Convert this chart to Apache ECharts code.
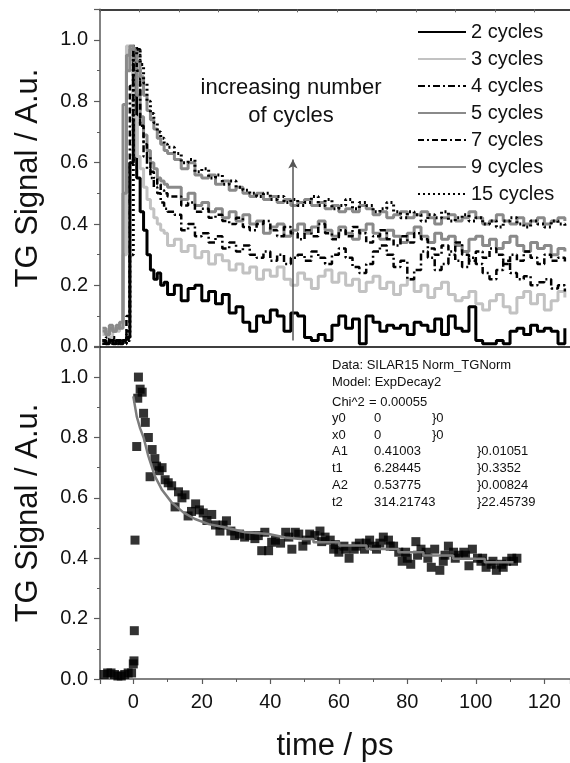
<!DOCTYPE html>
<html>
<head>
<meta charset="utf-8">
<title>TG signal</title>
<script src="https://cdn.jsdelivr.net/npm/echarts@6/dist/echarts.min.js"></script>
<style>
  html, body { margin: 0; padding: 0; background: #fff; }
  #main { width: 570px; height: 763px; }
</style>
</head>
<body>
<div id="main"></div>
<script>
// upper panel: normalised TG traces, time in ps
var timeTop = [-9,-8,-7,-6,-5,-4,-3,-2,-1,0,1,2,3,4,5,6,7,8,9,10,
  12,14,16,18,20,22,24,26,28,30,
  32,34,36,38,40,42,44,46,48,50,
  52,54,56,58,60,62,64,66,68,70,
  72,74,76,78,80,82,84,86,88,90,
  92,94,96,98,100,102,104,106,108,110,
  112,114,116,118,120,122,124,126]

var cycleNames = ['2 cycles','3 cycles','4 cycles','5 cycles','7 cycles','9 cycles','15 cycles']

var cycles2 = [0.02,0.01,0.03,0.01,0.02,0.01,
  0.02,0.03,0.60,0.97,0.55,0.44,0.38,0.30,0.25,0.22,0.24,0.20,0.21,0.17,
  0.20,0.15,0.19,0.20,0.15,0.18,0.14,0.17,0.11,0.13,
  0.08,0.05,0.10,0.08,0.12,0.10,0.05,0.11,0.10,0.03,
  0.02,0.04,0.02,0.07,0.10,0.06,0.09,0.01,0.10,0.08,
  0.05,0.07,0.06,0.07,0.04,0.08,0.07,0.05,0.09,0.04,
  0.10,0.06,0.05,0.13,0.02,0.01,0.01,0.02,0.01,0.05,
  0.06,0.04,0.07,0.05,0.06,0.05,0.01,0.06]
var cycles3 = [0.04,0.05,0.03,0.06,0.05,0.07,
  0.30,0.98,0.90,0.75,0.62,0.58,0.52,0.48,0.45,0.42,0.40,0.38,0.37,0.33,
  0.35,0.31,0.33,0.29,0.31,0.27,0.30,0.28,0.25,0.27,
  0.24,0.26,0.22,0.25,0.23,0.26,0.22,0.20,0.24,0.22,
  0.19,0.23,0.25,0.21,0.24,0.20,0.22,0.18,0.21,0.23,
  0.19,0.21,0.17,0.20,0.22,0.18,0.20,0.16,0.19,0.21,
  0.17,0.15,0.16,0.18,0.14,0.12,0.15,0.17,0.13,0.11,
  0.16,0.18,0.14,0.17,0.12,0.15,0.18,0.16]
var cycles4 = [0.01,0.02,0.01,0.02,0.01,0.02,
  0.02,0.05,0.60,0.98,0.97,0.72,0.62,0.58,0.55,0.52,0.50,0.47,0.45,0.44,
  0.43,0.38,0.40,0.36,0.37,0.34,0.36,0.32,0.34,0.31,
  0.33,0.30,0.29,0.31,0.28,0.30,0.27,0.29,0.30,0.28,
  0.31,0.29,0.27,0.30,0.32,0.29,0.26,0.24,0.27,0.31,
  0.33,0.30,0.26,0.28,0.22,0.25,0.31,0.29,0.25,0.27,
  0.30,0.28,0.26,0.29,0.27,0.24,0.22,0.25,0.28,0.24,
  0.22,0.23,0.20,0.21,0.22,0.19,0.20,0.18]
var cycles5 = [0.05,0.04,0.06,0.05,0.07,0.06,
  0.79,0.95,0.97,0.93,0.82,0.75,0.69,0.64,0.60,0.58,0.55,0.54,0.53,0.52,
  0.52,0.48,0.50,0.46,0.47,0.44,0.45,0.42,0.44,0.41,
  0.43,0.40,0.41,0.37,0.39,0.40,0.36,0.38,0.40,0.37,
  0.39,0.41,0.38,0.36,0.39,0.37,0.35,0.38,0.40,0.37,
  0.35,0.38,0.36,0.34,0.37,0.39,0.36,0.34,0.37,0.35,
  0.36,0.33,0.31,0.35,0.36,0.33,0.35,0.32,0.34,0.36,
  0.33,0.31,0.34,0.32,0.33,0.30,0.32,0.31]
var cycles7 = [0.01,0.03,0.02,0.01,0.02,0.01,
  0.02,0.10,0.85,0.97,0.90,0.72,0.66,0.62,0.57,0.55,0.53,0.51,0.50,0.49,
  0.49,0.46,0.47,0.44,0.45,0.42,0.43,0.41,0.40,0.42,
  0.39,0.38,0.40,0.41,0.38,0.36,0.39,0.37,0.35,0.38,
  0.36,0.40,0.37,0.35,0.38,0.36,0.39,0.37,0.34,0.36,
  0.38,0.35,0.33,0.36,0.34,0.37,0.35,0.32,0.30,0.33,
  0.31,0.34,0.30,0.28,0.31,0.29,0.32,0.30,0.27,0.30,
  0.28,0.31,0.29,0.27,0.30,0.28,0.29,0.27]
var cycles9 = [0.06,0.04,0.07,0.05,0.06,0.08,
  0.50,0.90,0.98,0.97,0.93,0.88,0.82,0.77,0.74,0.71,0.68,0.66,0.64,0.63,
  0.61,0.58,0.60,0.56,0.55,0.56,0.53,0.54,0.51,0.52,
  0.50,0.49,0.50,0.48,0.49,0.47,0.48,0.46,0.47,0.48,
  0.46,0.47,0.45,0.46,0.44,0.45,0.44,0.46,0.45,0.43,
  0.44,0.42,0.43,0.44,0.42,0.43,0.44,0.42,0.40,0.42,
  0.43,0.41,0.42,0.44,0.42,0.40,0.41,0.43,0.41,0.40,
  0.42,0.40,0.41,0.42,0.40,0.41,0.42,0.41]
var cycles15 = [0.02,0.01,0.02,0.03,0.01,0.02,
  0.01,0.02,0.30,0.95,0.97,0.92,0.86,0.80,0.76,0.73,0.70,0.68,0.66,0.65,
  0.63,0.60,0.61,0.57,0.58,0.55,0.56,0.53,0.54,0.52,
  0.51,0.50,0.49,0.50,0.48,0.49,0.47,0.48,0.46,0.47,
  0.49,0.46,0.48,0.45,0.46,0.48,0.45,0.47,0.46,0.44,
  0.45,0.47,0.44,0.42,0.44,0.43,0.41,0.43,0.42,0.44,
  0.41,0.42,0.43,0.41,0.42,0.40,0.41,0.39,0.41,0.42,
  0.40,0.39,0.41,0.40,0.39,0.41,0.40,0.39]

// lower panel: SILAR 15 data points and the ExpDecay2 fit
var scatterTime = [-8.5,-7.5,-6.5,-5.5,-4.5,-3.5,-2.5,-1.5,-0.5,
  0,0.2,0.3,0.5,1.0,1.3,1.5,2.0,2.6,3.0,3.5,4.4,4.9,5.5,6.3,6.8,7.6,8.4,9.3,10.2,
  11.2,12.2,13.2,14.2,15.1,16,17,18.2,19.3,20.4,21.5,22.9,24,25.3,26.2,27.2,28.5,29.6,
  31,32.5,34,35.5,36.5,37.5,38.4,39.5,40.4,41.5,43,44.5,45.4,46.3,47.3,48.3,49.5,
  50.5,51.5,53,54.5,56,57.5,58.5,60,61.5,63,64.5,66,67.5,69,70.5,72,73,74.5,76,
  77.5,78.5,80,81,82.5,84,85.5,87,88,89.5,90.5,92,93.5,95,96.5,98,99,100.5,101.5,
  103,104.5,106,107.5,109,110.5,112,
  55,59,62,65,68,71,75,79.5,83,86,91,94,97,102,105,108,111]
var scatterSignal = [0.015,0.02,0.02,0.015,0.01,0.01,0.015,0.02,0.02,
  0.05,0.06,0.16,0.46,0.77,0.93,1.0,0.96,0.95,0.88,0.85,0.80,0.67,0.76,0.73,0.705,0.69,0.70,0.66,0.65,
  0.64,0.57,0.62,0.60,0.61,0.54,0.555,0.58,0.56,0.55,0.525,0.545,0.51,0.49,0.51,0.524,0.49,0.475,
  0.48,0.47,0.475,0.465,0.475,0.425,0.486,0.425,0.453,0.46,0.45,0.486,0.47,0.43,0.486,0.48,0.44,
  0.46,0.48,0.475,0.49,0.47,0.46,0.43,0.42,0.44,0.40,0.43,0.45,0.43,0.46,0.44,0.45,0.47,0.46,0.44,
  0.42,0.39,0.40,0.38,0.455,0.43,0.42,0.37,0.43,0.36,0.39,0.44,0.42,0.41,0.42,0.375,0.43,0.40,0.39,
  0.37,0.38,0.36,0.38,0.39,0.40,0.40,
  0.455,0.445,0.43,0.44,0.45,0.43,0.44,0.42,0.41,0.40,0.41,0.40,0.41,0.40,0.39,0.37,0.39]
var fitTime = [0,1,2,3,4.4,6.3,8.3,11.2,14.6,18,22,26.9,32.7,39.5,44.4,48.7,
  52.6,52.6,60.1,60.1,68.1,68.1,77.4,77.4,84.7,84.7,93.4,93.4,102.6,102.6,111]
var fitSignal = [0.936,0.87,0.83,0.80,0.738,0.672,0.628,0.585,0.552,0.53,0.513,0.502,0.486,0.48,0.469,0.464,
  0.464,0.453,0.453,0.442,0.442,0.431,0.431,0.42,0.42,0.409,0.409,0.398,0.398,0.387,0.387]

var fitHead = ['Data: SILAR15 Norm_TGNorm', 'Model: ExpDecay2']
var fitRows = [
  ['y0', '0', '}0'],
  ['x0', '0', '}0'],
  ['A1', '0.41003', '}0.01051'],
  ['t1', '6.28445', '}0.3352'],
  ['A2', '0.53775', '}0.00824'],
  ['t2', '314.21743', '}22.45739']
]

var font = "'Liberation Sans', Arial, sans-serif"
var axisGray = '#5a5a5a'

function pairs(xs, ys) {
  return xs.map(function (x, i) { return [x, ys[i]] })
}

// line styles per trace: colour, width, dash
var traceStyle = [
  { data: cycles2, color: '#000000', width: 3, type: 'solid' },
  { data: cycles3, color: '#c2c2c2', width: 3, type: 'solid' },
  { data: cycles4, color: '#000000', width: 2.5, type: [7, 3, 2, 3] },
  { data: cycles5, color: '#8a8a8a', width: 3, type: 'solid' },
  { data: cycles7, color: '#000000', width: 2.5, type: [6, 3, 2, 3, 6, 3] },
  { data: cycles9, color: '#8a8a8a', width: 3, type: 'solid' },
  { data: cycles15, color: '#000000', width: 3, type: [2, 3] }
]

var series = traceStyle.map(function (s, i) {
  return {
    name: cycleNames[i],
    type: 'line',
    xAxisIndex: 0,
    yAxisIndex: 0,
    step: 'end',
    symbol: 'none',
    data: pairs(timeTop, s.data),
    itemStyle: { color: s.color },
    lineStyle: { color: s.color, width: s.width, type: s.type }
  }
})

// arrow "increasing number of cycles"
series[5].markLine = {
  silent: true,
  symbol: ['none', 'arrow'],
  symbolSize: [7, 9],
  label: { show: false },
  lineStyle: { color: '#555', width: 1.5, type: 'solid' },
  data: [[{ coord: [46.6, 0.02] }, { coord: [46.6, 0.61] }]]
}

series.push({
  name: 'data',
  type: 'scatter',
  xAxisIndex: 1,
  yAxisIndex: 1,
  symbol: 'rect',
  symbolSize: 9,
  itemStyle: { color: '#000' },
  data: pairs(scatterTime, scatterSignal)
})
series.push({
  name: 'fit',
  type: 'line',
  xAxisIndex: 1,
  yAxisIndex: 1,
  symbol: 'none',
  z: 5,
  lineStyle: { color: '#7c7c7c', width: 2.5 },
  data: pairs(fitTime, fitSignal)
})

function signalAxis(grid) {
  return {
    gridIndex: grid,
    type: 'value',
    min: 0,
    max: 1.1,
    interval: 0.2,
    axisLine: { show: true, onZero: false, lineStyle: { color: axisGray, width: 1.5 } },
    axisTick: { show: true, length: 6, lineStyle: { color: axisGray, width: 1.2 } },
    minorTick: { show: true, splitNumber: 2, length: 3, lineStyle: { color: axisGray } },
    splitLine: { show: false },
    axisLabel: {
      fontSize: 20, fontFamily: font, color: '#111', margin: 12,
      showMaxLabel: false,
      formatter: function (v) { return v.toFixed(1) }
    },
    name: 'TG Signal / A.u.',
    nameLocation: 'middle',
    nameGap: 56,
    nameTextStyle: { fontSize: 31, fontFamily: font, color: '#111' }
  }
}

var textEls = []
fitHead.forEach(function (t, i) {
  textEls.push({ type: 'text', left: 332, top: 359 + i * 17, style: { text: t, fontSize: 13, fontFamily: font, fill: '#111' } })
})
textEls.push({ type: 'text', left: 332, top: 396, style: { text: 'Chi^2', fontSize: 13, fontFamily: font, fill: '#111' } })
textEls.push({ type: 'text', left: 369, top: 396, style: { text: '= 0.00055', fontSize: 13, fontFamily: font, fill: '#111' } })
fitRows.forEach(function (r, i) {
  var y = 412 + i * 16.7
  textEls.push({ type: 'text', left: 332, top: y, style: { text: r[0], fontSize: 13, fontFamily: font, fill: '#111' } })
  textEls.push({ type: 'text', left: 374, top: y, style: { text: r[1], fontSize: 13, fontFamily: font, fill: '#111' } })
  textEls.push({ type: 'text', left: i < 2 ? 432 : 477, top: y, style: { text: r[2], fontSize: 13, fontFamily: font, fill: '#111' } })
})
textEls.push({ type: 'text', x: 291, y: 88, style: { text: 'increasing number', fontSize: 22, fontFamily: font, fill: '#111', align: 'center', verticalAlign: 'middle' } })
textEls.push({ type: 'text', x: 291, y: 116, style: { text: 'of cycles', fontSize: 22, fontFamily: font, fill: '#111', align: 'center', verticalAlign: 'middle' } })

let myChart = echarts.init(document.getElementById('main'))
myChart.setOption({
  animation: false,
  backgroundColor: '#fff',
  grid: [
    { left: 100, top: 9.3, width: 470, height: 337.4 },
    { left: 100, top: 346.9, width: 470, height: 333.8 }
  ],
  legend: {
    data: cycleNames,
    orient: 'vertical',
    left: 417,
    top: 22,
    padding: 0,
    itemWidth: 48,
    itemHeight: 12,
    itemGap: 7,
    itemStyle: { opacity: 0 },
    textStyle: { fontSize: 20, fontFamily: font, color: '#111' }
  },
  xAxis: [
    {
      // upper panel, shared time scale (no labels)
      gridIndex: 0, type: 'value', min: -9.72, max: 127.5,
      axisLine: { onZero: false, lineStyle: { color: '#000', width: 1.5 } },
      axisTick: { show: false }, axisLabel: { show: false }, splitLine: { show: false }
    },
    {
      gridIndex: 1, type: 'value', min: -9.72, max: 127.5, splitNumber: 7,
      axisLine: { onZero: false, lineStyle: { color: axisGray, width: 1.5 } },
      axisTick: { length: 5, lineStyle: { color: axisGray, width: 1.2 } },
      minorTick: { show: true, splitNumber: 2, length: 3, lineStyle: { color: axisGray } },
      splitLine: { show: false },
      axisLabel: { fontSize: 20, fontFamily: font, color: '#111', margin: 13, showMinLabel: false, showMaxLabel: false },
      name: 'time / ps', nameLocation: 'middle', nameGap: 52,
      nameTextStyle: { fontSize: 31, fontFamily: font, color: '#111' }
    },
    {
      // top frame of the upper panel
      gridIndex: 0, type: 'value', position: 'top', min: -10, max: 109, interval: 10,
      axisLine: { onZero: false, lineStyle: { color: '#000', width: 1.5 } },
      axisTick: { inside: true, length: 3, lineStyle: { color: '#666' } },
      axisLabel: { show: false }, splitLine: { show: false }
    }
  ],
  yAxis: [signalAxis(0), signalAxis(1)],
  graphic: textEls,
  series: series
})
</script>
</body>
</html>
